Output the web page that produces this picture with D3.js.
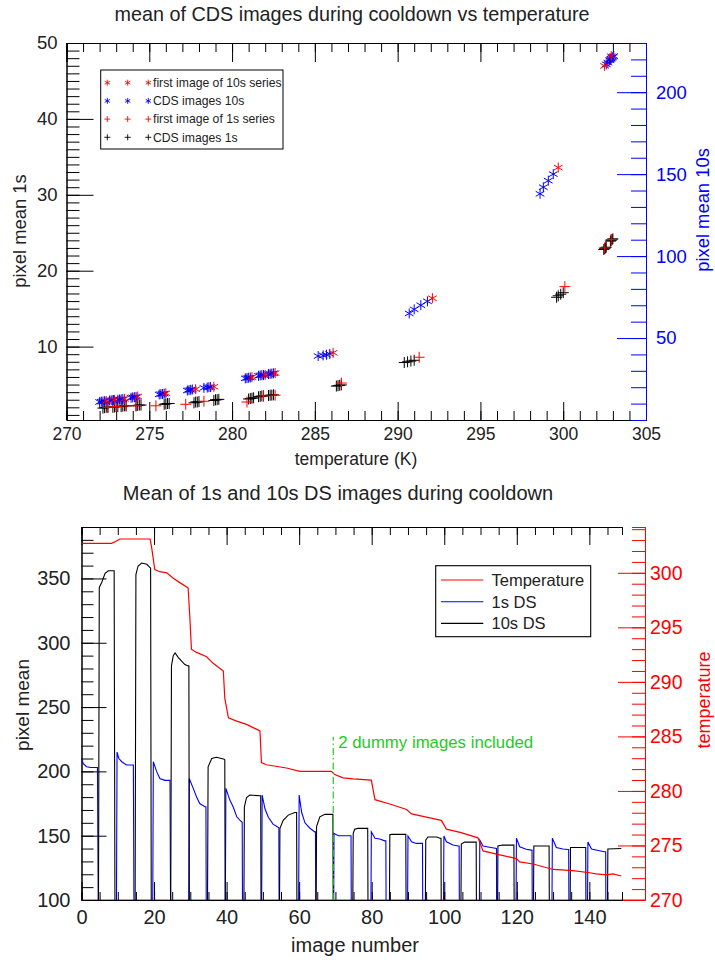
<!DOCTYPE html>
<html><head><meta charset="utf-8">
<script src="https://cdn.jsdelivr.net/npm/d3@7"></script>
<style>
html,body{margin:0;padding:0;background:#fff;}
svg text{font-family:"Liberation Sans",Arial,Helvetica,sans-serif;}
</style></head>
<body>
<svg id="c" width="715" height="963"></svg>
<script>
// ---------- TOP CHART DATA ----------
const topTitle = "mean of CDS images during cooldown vs temperature";
const topXTicks = [270,275,280,285,290,295,300,305];
const topYLeftTicks = [10,20,30,40,50];
const topYRightTicks = [50,100,150,200];
const legendTop = ["first image of 10s series","CDS images 10s","first image of 1s series","CDS images 1s"];
// [temperature K, pixel mean 10s]
const first10s = [[272.4,11.6],[272.9,12.3],[273.5,12.9],[274.3,14.3],[276.0,16.3],[277.8,18.8],[278.9,20.3],[281.2,26.1],[282.0,27.5],[282.6,28.6],[286.1,41.0],[292.1,74.3],[299.7,154],[302.5,216],[302.9,222]];
const cds10s = [[272.0,11.0],[272.1,11.2],[272.2,11.3],[272.3,11.5],
 [272.6,11.9],[272.7,12.0],[272.8,12.1],[272.85,12.2],
 [273.1,12.4],[273.2,12.5],[273.3,12.6],[273.4,12.7],
 [273.9,13.6],[274.0,13.8],[274.1,13.9],[274.2,14.1],
 [275.6,15.6],[275.7,15.8],[275.8,15.9],[275.9,16.1],
 [277.3,18.0],[277.4,18.2],[277.5,18.4],[277.6,18.6],
 [278.3,19.6],[278.5,19.8],[278.6,20.0],[278.7,20.1],
 [280.8,25.4],[280.9,25.6],[281.0,25.8],[281.1,25.9],
 [281.6,27.0],[281.7,27.2],[281.8,27.3],[281.9,27.4],
 [282.2,28.0],[282.3,28.2],[282.4,28.3],[282.5,28.5],
 [285.2,39.0],[285.5,39.4],[285.7,39.8],[285.9,40.3],
 [290.7,65.0],[291.0,67.5],[291.4,70.0],[291.8,72.4],
 [298.6,138],[298.8,142],[299.1,146],[299.4,150],
 [302.6,217],[302.7,218],[302.8,219.5],[302.85,220],
 [302.9,220.5],[302.95,221],[303.0,221.5],[303.05,222]];
// [temperature K, pixel mean 1s]
const first1s = [[272.5,2.0],[273.0,2.1],[273.6,2.2],[274.2,2.2],[275.4,2.2],[277.2,2.4],[278.3,2.8],[280.9,2.7],[281.9,3.5],[282.6,3.6],[286.6,5.2],[291.3,8.6],[300.1,17.9],[302.5,23.0],[302.9,24.1]];
const cds1s = [[272.2,1.9],[272.3,1.95],[272.4,2.0],[272.5,2.0],
 [272.8,2.0],[272.9,2.05],[273.0,2.1],[273.1,2.1],
 [273.3,2.1],[273.4,2.15],[273.5,2.2],[273.6,2.2],
 [274.2,2.2],[274.3,2.25],[274.4,2.3],[274.5,2.3],
 [275.9,2.4],[276.0,2.45],[276.1,2.5],[276.2,2.5],
 [277.7,2.6],[277.8,2.7],[277.9,2.7],[278.0,2.75],
 [278.9,2.9],[279.0,3.0],[279.1,3.0],[279.2,3.05],
 [281.0,3.1],[281.1,3.15],[281.2,3.2],[281.3,3.25],
 [281.6,3.4],[281.7,3.45],[281.8,3.5],[281.9,3.5],
 [282.2,3.55],[282.3,3.6],[282.4,3.6],[282.5,3.65],
 [286.3,4.8],[286.4,4.85],[286.5,4.9],[286.6,4.95],
 [290.4,7.9],[290.6,8.0],[290.8,8.1],[291.0,8.2],
 [299.6,16.5],[299.7,16.7],[299.85,16.9],[300.0,17.1],
 [302.45,22.8],[302.5,22.9],[302.55,23.0],[302.6,23.1],
 [302.85,23.9],[302.9,24.0],[302.95,24.1],[303.0,24.2]];

// ---------- BOTTOM CHART DATA ----------
const botTitle = "Mean of 1s and 10s DS images during cooldown";
const botXTicks = [0,20,40,60,80,100,120,140];
const botYTicks = [100,150,200,250,300,350];
const botTTicks = [270,275,280,285,290,295,300];
const legendBot = ["Temperature","1s DS","10s DS"];
const dummyLabel = "2 dummy images included";
const dummyX = 69.4, dummyTop = 227;
// [image number, pixel mean]
const ds1s = [[0,210],[0.5,206],[1.4,203.6],[2.5,203],[4.4,203],[4.8,0],
 [9.5,0],[9.8,215],[10.3,210],[11.1,207.5],[12.4,205],[14.3,205],[14.6,0],
 [19.5,0],[19.8,207.5],[20.7,200],[21.6,194.5],[23.0,193],[24.4,193],[24.7,0],
 [29.4,0],[29.7,194.5],[30.8,186.8],[31.7,180.3],[32.6,175],[34.0,172.5],[34.3,172.5],[34.5,0],
 [39.5,0],[39.8,186.8],[40.9,177.7],[41.8,172.5],[42.8,164.7],[44.1,160.8],[44.3,160.5],[44.5,0],
 [49.5,0],[49.8,181.6],[50.6,170.7],[51.5,164.3],[52.8,159],[54.2,156.5],[54.4,156.3],[54.6,0],
 [59.7,0],[60.0,181.6],[60.7,168],[61.6,160],[62.9,156],[64.3,153],[64.5,153],[64.7,0],
 [69.4,0],[69.6,151.8],[70.8,150],[73.1,150],[74.3,150],[74.5,0],
 [79.6,0],[79.9,153],[80.9,148],[82.2,147.4],[83.6,146],[83.9,146],[84.1,0],
 [89.7,0],[90.0,149.7],[91.0,145.3],[92.3,144],[93.7,144],[94.0,144],[94.2,0],
 [99.6,0],[99.9,149.7],[100.6,145.3],[102.4,142.7],[103.8,142],[104.1,142],[104.3,0],
 [109.5,0],[109.8,146.6],[110.7,142],[112.5,141],[114.4,140],[114.5,0],
 [119.6,0],[119.9,148],[120.8,141.4],[122.6,139.4],[124.0,138.8],[124.2,138.8],[124.4,0],
 [129.5,0],[129.8,148],[130.9,140.8],[132.7,139.6],[134.1,139.3],[134.3,139.3],[134.5,0],
 [139.3,0],[139.6,145],[140.6,139.6],[142.8,138.3],[144.2,137.5],[144.5,137.5],[144.7,0]];
const ds10s = [[0,0],[4.6,0],[4.9,343],[5.6,347],[6.5,354],[7.4,356],[8.8,356],[9.0,356],[9.3,0],
 [14.7,0],[15.0,353],[15.6,359.7],[16.6,362],[18.0,361],[18.9,358.5],[19.05,358],[19.3,0],
 [24.5,0],[24.8,282],[25.3,290],[25.8,292],[26.7,288.5],[28.5,283],[29.4,282],[29.6,282],[29.8,0],
 [34.6,0],[34.9,203.5],[35.9,210],[37.2,211],[38.6,210],[39.3,209.5],[39.5,209],[39.7,0],
 [44.6,0],[44.9,172.5],[45.5,179.7],[46.4,181.6],[49.2,181],[49.4,181],[49.6,0],
 [54.4,0],[54.7,155.7],[55.6,162],[57.0,166],[58.8,168],[59.3,168],[59.5,0],
 [64.5,0],[64.8,157],[65.7,164.7],[67.1,166.6],[68.9,166.6],[69.3,166.6],[69.5,0],
 [74.6,0],[74.9,151.8],[75.3,155],[76.2,155.7],[78.6,155.7],[78.9,155.7],[79.1,0],
 [84.7,0],[85.0,150.7],[85.5,151],[89.1,151],[89.4,151],[89.6,0],
 [94.6,0],[94.9,146.6],[95.5,149],[97.9,149],[98.8,148],[99.1,148],[99.3,0],
 [104.4,0],[104.7,143.5],[105.6,145],[108.4,145],[108.8,145],[109.0,0],
 [114.5,0],[114.8,142],[116,142.7],[118.5,142.7],[119.2,142.7],[119.4,0],
 [124.4,0],[124.7,142],[128.6,142],[128.9,142],[129.1,0],
 [134.5,0],[134.8,140.8],[138.7,140.8],[139.0,140.8],[139.2,0],
 [144.8,0],[145.1,139.6],[148.8,140]];
// [image number, temperature K]
const temperature = [[0,302.7],[8.3,302.7],[9.5,302.9],[10.6,303.1],[18.9,303.1],[19.3,302.4],[20.2,300.3],[21.6,300.1],[23.5,300.0],[25.3,299.5],[27.1,299.1],[29.0,298.7],[29.4,298.6],[29.9,295.7],[30.3,293.0],[31.7,292.7],[34.5,292.3],[36.3,291.7],[39.1,291.0],[39.5,288.5],[40.5,286.7],[42.8,286.4],[45.5,286.1],[49.2,285.5],[49.6,282.6],[51.0,282.4],[56.5,282.1],[60.2,281.8],[68.9,281.8],[69.8,281.5],[72.1,281.2],[74.9,281.1],[79.9,281.0],[80.9,279.2],[85.0,278.8],[89.6,278.3],[91.0,277.9],[95.1,277.6],[99.2,277.3],[100.6,276.5],[104.4,276.2],[109.3,275.7],[110.7,274.5],[114.4,274.2],[119.9,273.8],[120.8,273.5],[124.5,273.3],[130.0,272.8],[135.5,272.7],[140.1,272.5],[141.9,272.4],[144.7,272.3],[146.5,272.4],[148.8,272.2]];

// ---------- DRAWING ----------
const svg = d3.select("#c");
const RED="#ff0000", BLUE="#0000ff", BLK="#000", GREEN="#22cc22", TXT="#222";
const range = (a,b,s)=>d3.range(a,b+s/2,s);

function styleAxis(g,color,fs,tcol){
  g.select(".domain").attr("stroke",color).attr("stroke-width",1);
  g.selectAll(".tick line").attr("stroke",color).attr("stroke-width",1);
  g.selectAll(".tick text").attr("fill",tcol||color).attr("font-size",fs).attr("font-family","Liberation Sans, Arial, sans-serif");
}
function starPath(s){ // asterisk
  const c=Math.cos(Math.PI/6)*s, h=Math.sin(Math.PI/6)*s;
  return `M0,${-s}V${s}M${-c},${-h}L${c},${h}M${-c},${h}L${c},${-h}`;
}
function plusPath(s){ return `M${-s},0H${s}M0,${-s}V${s}`; }

// ===== TOP CHART =====
const xT = d3.scaleLinear([270,305],[66.5,646]);
const yL = d3.scaleLinear([0.33,50],[420,43]);
const yR = d3.scaleLinear([0,230],[420,43]);
const topG = svg.append("g");

topG.append("text").attr("x",352).attr("y",21).attr("text-anchor","middle").attr("font-size",19.8).attr("fill",TXT).text(topTitle);

topG.append("g").attr("transform","translate(0,420)").call(d3.axisBottom(xT).tickValues(range(270,305,1)).tickSize(-9).tickFormat("")).call(g=>styleAxis(g,BLK,15));
topG.append("g").attr("transform","translate(0,420)").call(d3.axisBottom(xT).tickValues(topXTicks).tickSizeInner(-18).tickSizeOuter(0).tickPadding(8).tickFormat(d3.format("d"))).call(g=>styleAxis(g,BLK,17.5,TXT));
topG.append("g").attr("transform","translate(0,43)").call(d3.axisTop(xT).tickValues(range(270,305,1)).tickSize(-9).tickFormat("")).call(g=>styleAxis(g,BLK,15));
topG.append("g").attr("transform","translate(0,43)").call(d3.axisTop(xT).tickValues(topXTicks).tickSize(-19).tickFormat("")).call(g=>styleAxis(g,BLK,15));
topG.append("g").attr("transform","translate(66.5,0)").call(d3.axisLeft(yL).tickValues(range(1,50,1)).tickSize(-13).tickFormat("")).call(g=>styleAxis(g,BLK,15));
topG.append("g").attr("transform","translate(66.5,0)").call(d3.axisLeft(yL).tickValues(topYLeftTicks).tickSizeInner(-27).tickSizeOuter(0).tickPadding(9).tickFormat(d3.format("d"))).call(g=>styleAxis(g,BLK,18.5,TXT));
topG.append("g").attr("transform","translate(646,0)").call(d3.axisRight(yR).tickValues(range(10,230,10)).tickSize(-15).tickFormat("")).call(g=>styleAxis(g,BLUE,15));
topG.append("g").attr("transform","translate(646,0)").call(d3.axisRight(yR).tickValues(topYRightTicks).tickSizeInner(-29).tickSizeOuter(0).tickPadding(10).tickFormat(d3.format("d"))).call(g=>styleAxis(g,BLUE,18.5));

topG.append("text").attr("x",356).attr("y",465).attr("text-anchor","middle").attr("font-size",17.5).attr("fill",TXT).text("temperature (K)");
topG.append("text").attr("transform","translate(26,231) rotate(-90)").attr("text-anchor","middle").attr("font-size",18.4).attr("fill",TXT).text("pixel mean 1s");
topG.append("text").attr("transform","translate(709,210) rotate(-90)").attr("text-anchor","middle").attr("font-size",18.4).attr("fill",BLUE).text("pixel mean 10s");

const pts = topG.append("g");
function drawMarks(data, ys, shape, color, s){
  pts.append("g").selectAll("path").data(data).join("path")
    .attr("transform",d=>`translate(${xT(d[0])},${ys(d[1])})`)
    .attr("d",shape(s)).attr("stroke",color).attr("stroke-width",1).attr("fill","none");
}
drawMarks(cds1s, yL, plusPath, BLK, 5.5);
drawMarks(first1s, yL, plusPath, RED, 5.5);
drawMarks(cds10s, yR, starPath, BLUE, 5);
drawMarks(first10s, yR, starPath, RED, 5);

const lg = topG.append("g");
lg.append("rect").attr("x",100.7).attr("y",70).attr("width",182.3).attr("height",79).attr("fill","#fff").attr("stroke",BLK).attr("stroke-width",1);
const lgStyles = [[starPath,RED],[starPath,BLUE],[plusPath,RED],[plusPath,BLK]];
legendTop.forEach((t,i)=>{
  const y = 82.7 + i*18.2;
  [107.3,127.7,148.3].forEach(x=>{
    lg.append("path").attr("transform",`translate(${x},${y})`).attr("d",lgStyles[i][0](3)).attr("stroke",lgStyles[i][1]).attr("fill","none").attr("stroke-width",0.9);
  });
  lg.append("text").attr("x",153).attr("y",y+4.3).attr("font-size",12.2).attr("fill",TXT).text(t);
});

// ===== BOTTOM CHART =====
const xB = d3.scaleLinear([0,149],[81.5,622]);
const yB = d3.scaleLinear([100,390],[900,527]);
const yTemp = d3.scaleLinear([270,304.2],[900,527]);
const botG = svg.append("g");

botG.append("text").attr("x",338).attr("y",500).attr("text-anchor","middle").attr("font-size",20).attr("fill",TXT).text(botTitle);

svg.append("clipPath").attr("id","clipB").append("rect").attr("x",81.5).attr("y",527).attr("width",622-81.5).attr("height",900-527);

botG.append("line").attr("x1",81.5).attr("x2",645).attr("y1",900).attr("y2",900).attr("stroke",RED);
botG.append("g").attr("transform","translate(645,0)").call(d3.axisRight(yTemp).tickValues(range(271,304,1)).tickSize(-13).tickFormat("")).call(g=>styleAxis(g,RED,17));
botG.append("g").attr("transform","translate(645,0)").call(d3.axisRight(yTemp).tickValues(botTTicks).tickSizeInner(-27).tickSizeOuter(0).tickPadding(5).tickFormat(d3.format("d"))).call(g=>styleAxis(g,RED,19.5));

botG.append("g").attr("transform","translate(0,900)").call(d3.axisBottom(xB).tickValues(range(0,145,5)).tickSize(-8).tickFormat("")).call(g=>styleAxis(g,BLK,17));
botG.append("g").attr("transform","translate(0,900)").call(d3.axisBottom(xB).tickValues(botXTicks).tickSizeInner(-18).tickSizeOuter(0).tickPadding(10).tickFormat(d3.format("d"))).call(g=>styleAxis(g,BLK,20,TXT));
botG.append("g").attr("transform","translate(0,527)").call(d3.axisTop(xB).tickValues(range(0,145,5)).tickSize(-8).tickFormat("")).call(g=>styleAxis(g,BLK,17));
botG.append("g").attr("transform","translate(0,527)").call(d3.axisTop(xB).tickValues(botXTicks).tickSizeInner(-18).tickSizeOuter(0).tickFormat("")).call(g=>styleAxis(g,BLK,17));
botG.append("g").attr("transform","translate(81.5,0)").call(d3.axisLeft(yB).tickValues(range(110,390,10)).tickSize(-12).tickFormat("")).call(g=>styleAxis(g,BLK,17));
botG.append("g").attr("transform","translate(81.5,0)").call(d3.axisLeft(yB).tickValues(botYTicks).tickSizeInner(-25).tickSizeOuter(0).tickPadding(11).tickFormat(d3.format("d"))).call(g=>styleAxis(g,BLK,20,TXT));

botG.append("text").attr("x",355).attr("y",952).attr("text-anchor","middle").attr("font-size",20).attr("fill",TXT).text("image number");
botG.append("text").attr("transform","translate(29,705) rotate(-90)").attr("text-anchor","middle").attr("font-size",19).attr("fill",TXT).text("pixel mean");
botG.append("text").attr("transform","translate(710,700) rotate(-90)").attr("text-anchor","middle").attr("font-size",18).attr("fill",RED).text("temperature");

const lines = botG.append("g").attr("clip-path","url(#clipB)");
const lineB = d3.line().x(d=>xB(d[0])).y(d=>yB(d[1]));
const lineT = d3.line().x(d=>xB(d[0])).y(d=>yTemp(d[1]));
lines.append("path").attr("d",lineB(ds1s)).attr("fill","none").attr("stroke",BLUE).attr("stroke-width",1.1);
lines.append("path").attr("d",lineB(ds10s)).attr("fill","none").attr("stroke",BLK).attr("stroke-width",1.1);
lines.append("path").attr("d",lineT(temperature)).attr("fill","none").attr("stroke",RED).attr("stroke-width",1.2);

botG.append("line").attr("x1",xB(dummyX)).attr("x2",xB(dummyX)).attr("y1",yB(100)).attr("y2",yB(dummyTop))
  .attr("stroke",GREEN).attr("stroke-width",1.2).attr("stroke-dasharray","7,3,1.5,3");
botG.append("text").attr("x",xB(dummyX)+5).attr("y",748).attr("font-size",16.8).attr("fill",GREEN).text(dummyLabel);

const lb = botG.append("g");
lb.append("rect").attr("x",435.7).attr("y",565.7).attr("width",155).attr("height",71).attr("fill","#fff").attr("stroke",BLK).attr("stroke-width",1.1);
const lbColors=[RED,BLUE,BLK];
legendBot.forEach((t,i)=>{
  const y = 580 + i*21.7;
  lb.append("line").attr("x1",441).attr("x2",483.3).attr("y1",y).attr("y2",y).attr("stroke",lbColors[i]).attr("stroke-width",1.1);
  lb.append("text").attr("x",491.5).attr("y",y+6).attr("font-size",16.5).attr("fill",TXT).text(t);
});
</script>
</body></html>
